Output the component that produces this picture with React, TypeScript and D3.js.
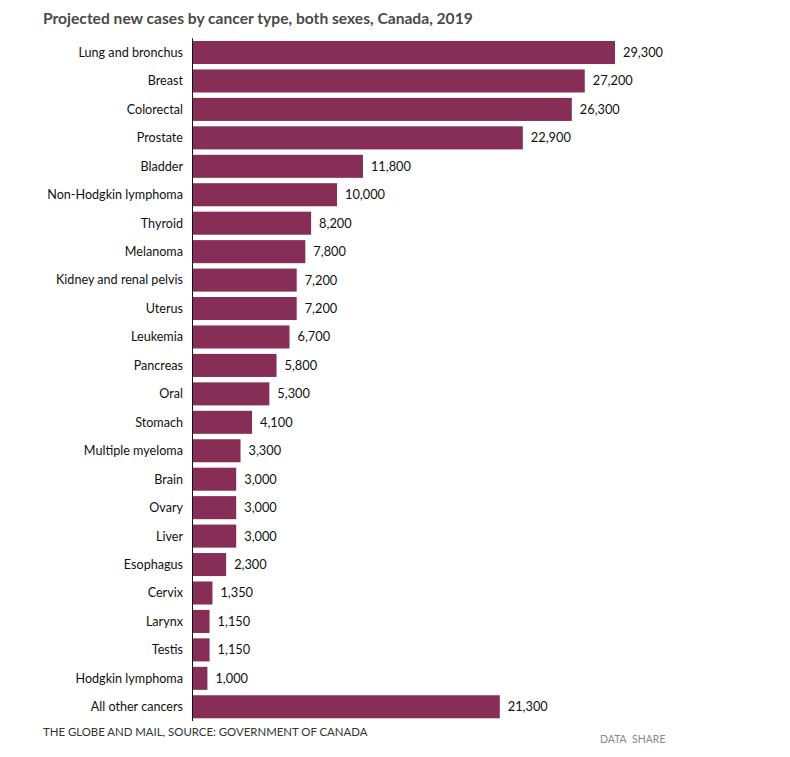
import React from "react";
import * as d3 from "d3";

const categories = [
  "Lung and bronchus", "Breast", "Colorectal", "Prostate", "Bladder",
  "Non-Hodgkin lymphoma", "Thyroid", "Melanoma", "Kidney and renal pelvis", "Uterus",
  "Leukemia", "Pancreas", "Oral", "Stomach", "Multiple myeloma",
  "Brain", "Ovary", "Liver", "Esophagus", "Cervix",
  "Larynx", "Testis", "Hodgkin lymphoma", "All other cancers",
];
const values = [
  29300, 27200, 26300, 22900, 11800,
  10000, 8200, 7800, 7200, 7200,
  6700, 5800, 5300, 4100, 3300,
  3000, 3000, 3000, 2300, 1350,
  1150, 1150, 1000, 21300,
];

const title = "Projected new cases by cancer type, both sexes, Canada, 2019";
const source = "THE GLOBE AND MAIL, SOURCE: GOVERNMENT OF CANADA";

export default function App() {
  const W = 790, H = 757;
  const x = d3.scaleLinear().domain([0, d3.max(values) as number]).range([193, 615]);
  const y = d3.scaleBand<string>().domain(categories).range([38.3, 721]).paddingInner(0.19).paddingOuter(0.095);
  const fmt = d3.format(",");
  const font = "Lato, 'Open Sans', sans-serif";
  return (
    <svg width={W} height={H} style={{ position: "absolute", left: 0, top: 0, background: "#fff" }} fontFamily={font}>
      <text x={43} y={24} fontSize={15.6} fontWeight="bold" fill="#4a4a4a">{title}</text>
      {categories.map((c, i) => {
        const yy = y(c) as number;
        const bh = y.bandwidth();
        return (
          <g key={c}>
            <rect x={x(0)} y={yy} width={x(values[i]) - x(0)} height={bh} fill="#862e55" />
            <text x={183} y={yy + bh / 2} dy="0.35em" textAnchor="end" fontSize={12.6} fill="#111">{c}</text>
            <text x={x(values[i]) + 8} y={yy + bh / 2} dy="0.35em" fontSize={12.8} fill="#111">{fmt(values[i])}</text>
          </g>
        );
      })}
      <line x1={192.5} x2={192.5} y1={38.3} y2={721} stroke="#111" strokeWidth={1} />
      <text x={43} y={736} fontSize={11.4} fill="#333">{source}</text>
      <text x={600} y={743} fontSize={10.5} fill="#888">DATA</text>
      <text x={632} y={743} fontSize={10.5} fill="#888">SHARE</text>
    </svg>
  );
}
